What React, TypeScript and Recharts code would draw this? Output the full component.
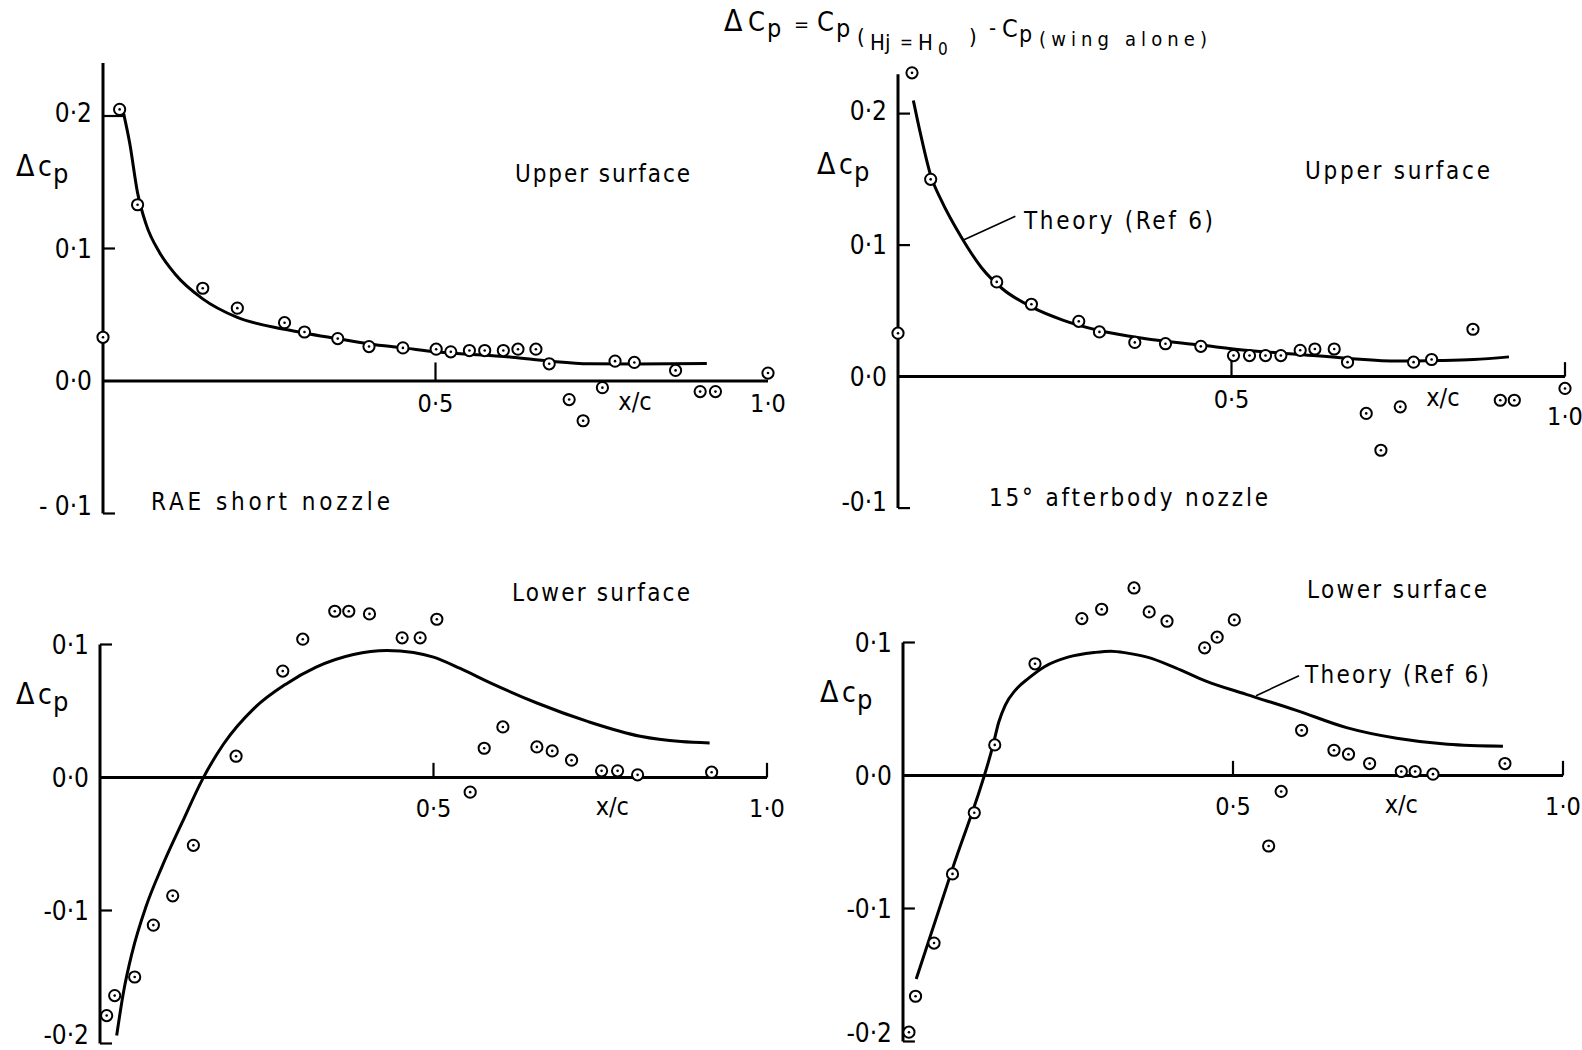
import React from 'react';
import { ComposedChart, Line, Scatter, XAxis, YAxis, ReferenceLine } from 'recharts';

const FONT = "'DejaVu Sans Condensed', 'Liberation Sans Narrow', 'DejaVu Sans', sans-serif";

// ---------- DATA ----------
// Panel 1: RAE short nozzle, upper surface (measured)
const upperShortPoints: [number, number][] = [
  [0, 0.033], [0.025, 0.205], [0.052, 0.133], [0.150, 0.070], [0.202, 0.055], [0.273, 0.044],
  [0.303, 0.037], [0.353, 0.032], [0.400, 0.026], [0.451, 0.025], [0.501, 0.024], [0.523, 0.022],
  [0.551, 0.023], [0.574, 0.023], [0.602, 0.023], [0.624, 0.024], [0.651, 0.024], [0.671, 0.013],
  [0.701, -0.014], [0.722, -0.030], [0.751, -0.005], [0.770, 0.015], [0.799, 0.014], [0.861, 0.008],
  [0.898, -0.008], [0.921, -0.008], [1.0, 0.006],
];
const upperShortTheory: [number, number][] = [
  [0.031, 0.202], [0.040, 0.180], [0.052, 0.142], [0.065, 0.118], [0.085, 0.097], [0.108, 0.081],
  [0.150, 0.062], [0.202, 0.048], [0.273, 0.039], [0.304, 0.036], [0.352, 0.032], [0.401, 0.028],
  [0.452, 0.025], [0.501, 0.022], [0.615, 0.018], [0.672, 0.015], [0.731, 0.013], [0.800, 0.0128],
  [0.908, 0.0132],
];

// Panel 2: 15 deg afterbody nozzle, upper surface
const upperAfterPoints: [number, number][] = [
  [0, 0.033], [0.021, 0.231], [0.049, 0.150], [0.148, 0.072], [0.200, 0.055], [0.271, 0.042],
  [0.302, 0.034], [0.355, 0.026], [0.401, 0.025], [0.454, 0.023], [0.503, 0.016], [0.527, 0.016],
  [0.551, 0.016], [0.574, 0.016], [0.603, 0.020], [0.625, 0.021], [0.654, 0.021], [0.674, 0.011],
  [0.702, -0.028], [0.724, -0.056], [0.753, -0.023], [0.773, 0.011], [0.800, 0.013], [0.862, 0.036],
  [0.903, -0.018], [0.924, -0.018], [1.0, -0.009],
];
const upperAfterTheory: [number, number][] = [
  [0.023, 0.210], [0.034, 0.184], [0.049, 0.153], [0.065, 0.134], [0.095, 0.106], [0.125, 0.083],
  [0.156, 0.067], [0.200, 0.053], [0.247, 0.043], [0.302, 0.035], [0.369, 0.029], [0.454, 0.024],
  [0.521, 0.020], [0.597, 0.017], [0.673, 0.014], [0.749, 0.0118], [0.810, 0.0122], [0.863, 0.013],
  [0.916, 0.015],
];

// Panel 3: RAE short nozzle, lower surface
const lowerShortPoints: [number, number][] = [
  [0.010, -0.179], [0.022, -0.164], [0.052, -0.150], [0.080, -0.111], [0.109, -0.089], [0.140, -0.051],
  [0.204, 0.016], [0.274, 0.080], [0.304, 0.104], [0.352, 0.125], [0.373, 0.125], [0.404, 0.123],
  [0.453, 0.105], [0.480, 0.105], [0.505, 0.119], [0.555, -0.011], [0.576, 0.022], [0.604, 0.038],
  [0.655, 0.023], [0.678, 0.020], [0.707, 0.013], [0.752, 0.005], [0.776, 0.005], [0.806, 0.002],
  [0.917, 0.004],
];
const lowerShortTheory: [number, number][] = [
  [0.025, -0.194], [0.035, -0.162], [0.048, -0.132], [0.069, -0.097], [0.093, -0.067], [0.123, -0.034],
  [0.154, -0.001], [0.185, 0.025], [0.231, 0.052], [0.278, 0.070], [0.324, 0.083], [0.380, 0.0925],
  [0.430, 0.0955], [0.470, 0.094], [0.500, 0.0905], [0.540, 0.082], [0.586, 0.071], [0.655, 0.056],
  [0.732, 0.042], [0.810, 0.031], [0.871, 0.027], [0.914, 0.026],
];

// Panel 4: 15 deg afterbody nozzle, lower surface
const lowerAfterPoints: [number, number][] = [
  [0.009, -0.193], [0.019, -0.166], [0.047, -0.126], [0.075, -0.074], [0.108, -0.028], [0.139, 0.023],
  [0.200, 0.084], [0.271, 0.118], [0.301, 0.125], [0.350, 0.141], [0.373, 0.123], [0.400, 0.116],
  [0.457, 0.096], [0.476, 0.104], [0.502, 0.117], [0.554, -0.053], [0.573, -0.012], [0.604, 0.034],
  [0.653, 0.019], [0.675, 0.016], [0.707, 0.009], [0.755, 0.003], [0.776, 0.003], [0.803, 0.001],
  [0.912, 0.009],
];
const lowerAfterTheory: [number, number][] = [
  [0.020, -0.153], [0.075, -0.070], [0.137, 0.024], [0.145, 0.040], [0.155, 0.053], [0.170, 0.064],
  [0.190, 0.073], [0.215, 0.082], [0.250, 0.089], [0.290, 0.0925], [0.315, 0.0935], [0.340, 0.092],
  [0.370, 0.089], [0.413, 0.081], [0.459, 0.071], [0.520, 0.061], [0.596, 0.049], [0.672, 0.036],
  [0.748, 0.028], [0.825, 0.0235], [0.909, 0.022],
];

// Tick values / labels
const upperYTicks = [-0.1, 0, 0.1, 0.2];
const upperYLabelsA = ['- 0·1', '0·0', '0·1', '0·2'];
const upperYLabelsB = ['-0·1', '0·0', '0·1', '0·2'];
const lowerYTicks = [-0.2, -0.1, 0, 0.1];
const lowerYLabels = ['-0·2', '-0·1', '0·0', '0·1'];
const xTickValues = [0.5, 1.0];
const xTickLabels = ['0·5', '1·0'];
const xVarLabel = 'x/c';

// Leader lines for "Theory (Ref 6)"
const leaderUpper: [number, number][] = [[0.099, 0.104], [0.176, 0.122]];
const leaderLower: [number, number][] = [[0.535, 0.060], [0.600, 0.075]];

const toXY = (arr: [number, number][]) => arr.map(([x, y]) => ({ x, y }));

// ---------- PANEL ----------
type Cfg = {
  x0: number; x1: number; zeroY: number; unit: number; ymin: number; ymax: number;
  axisTop: number; axisBottom: number;
  yTicks: number[]; yLabels: string[]; yLabelShift: number[];
  yTickMarks: { v: number; len: number }[];
  xTickMarks: { v: number; len: number }[];
  xLabelDy: number[]; xVarPos: number; xVarDy: number;
  leader?: [number, number][];
};

const Marker = (p: any) => (
  <g>
    <circle cx={p.cx} cy={p.cy} r={5.6} fill="#fff" stroke="#000" strokeWidth={2} />
    <circle cx={p.cx} cy={p.cy} r={1.3} fill="#000" />
  </g>
);

function Panel({ cfg, points, theory }: { cfg: Cfg; points: [number, number][]; theory: [number, number][] }) {
  const M = { top: 30, right: 40, bottom: 70, left: 0 };
  const YW = 95;
  const plotW = cfg.x1 - cfg.x0;
  const plotH = (cfg.ymax - cfg.ymin) * cfg.unit;
  const width = YW + plotW + M.right;
  const height = M.top + plotH + M.bottom;
  const left = cfg.x0 - YW;
  const top = cfg.zeroY - cfg.ymax * cfg.unit - M.top;
  const xLabelData = xTickValues.map((v, i) => ({ x: v, y: 0, label: xTickLabels[i], dy: cfg.xLabelDy[i] }));
  const varData = [{ x: cfg.xVarPos, y: 0, label: xVarLabel, dy: cfg.xVarDy }];
  const TextShape = (p: any) => (
    <text x={p.cx} y={p.cy + p.payload.dy} textAnchor="middle" fontSize={25} fontFamily={FONT} fill="#000">
      {p.payload.label}
    </text>
  );
  const YTick = (p: any) => {
    const i = cfg.yTicks.indexOf(p.payload.value);
    return (
      <text x={p.x} y={p.y + (cfg.yLabelShift[i] || 0)} dy="0.36em" textAnchor="end" fontSize={26} fontFamily={FONT} fill="#000">
        {cfg.yLabels[i]}
      </text>
    );
  };
  return (
    <div style={{ position: 'absolute', left, top }}>
      <ComposedChart width={width} height={height} margin={M}>
        <XAxis type="number" dataKey="x" domain={[0, 1]} hide />
        <YAxis
          type="number"
          dataKey="y"
          domain={[cfg.ymin, cfg.ymax]}
          ticks={cfg.yTicks}
          interval={0}
          width={YW}
          axisLine={false}
          tickLine={false}
          tickSize={0}
          tickMargin={11}
          tick={YTick}
        />
        {/* y axis line */}
        <ReferenceLine segment={[{ x: 0, y: cfg.axisBottom }, { x: 0, y: cfg.axisTop }]} stroke="#000" strokeWidth={3} />
        {/* x axis line at zero */}
        <ReferenceLine segment={[{ x: 0, y: 0 }, { x: 1, y: 0 }]} stroke="#000" strokeWidth={3} />
        {cfg.yTickMarks.map((t, i) => (
          <ReferenceLine key={'yt' + i} segment={[{ x: 0, y: t.v }, { x: t.len, y: t.v }]} stroke="#000" strokeWidth={2.2} />
        ))}
        {cfg.xTickMarks.map((t, i) => (
          <ReferenceLine key={'xt' + i} segment={[{ x: t.v, y: 0 }, { x: t.v, y: t.len }]} stroke="#000" strokeWidth={2.2} />
        ))}
        {cfg.leader && (
          <ReferenceLine
            segment={[{ x: cfg.leader[0][0], y: cfg.leader[0][1] }, { x: cfg.leader[1][0], y: cfg.leader[1][1] }]}
            stroke="#000"
            strokeWidth={1.6}
          />
        )}
        <Line data={toXY(theory)} dataKey="y" type="monotone" dot={false} stroke="#000" strokeWidth={3} isAnimationActive={false} />
        <Scatter data={toXY(points)} dataKey="y" shape={Marker} isAnimationActive={false} />
        <Scatter data={xLabelData} dataKey="y" shape={TextShape} isAnimationActive={false} />
        <Scatter data={varData} dataKey="y" shape={TextShape} isAnimationActive={false} />
      </ComposedChart>
    </div>
  );
}

const cfg1: Cfg = {
  x0: 103, x1: 768, zeroY: 380.5, unit: 1325, ymin: -0.1, ymax: 0.24,
  axisTop: 0.24, axisBottom: -0.1, yTicks: upperYTicks, yLabels: upperYLabelsA, yLabelShift: [-8, 0, 0, -3],
  yTickMarks: [{ v: 0.2, len: 0.03 }, { v: 0.1, len: 0.018 }, { v: -0.1, len: 0.018 }],
  xTickMarks: [{ v: 0.5, len: 0.014 }],
  xLabelDy: [31, 31], xVarPos: 0.80, xVarDy: 29,
};
const cfg2: Cfg = {
  x0: 898, x1: 1565, zeroY: 377, unit: 1315, ymin: -0.1, ymax: 0.24,
  axisTop: 0.23, axisBottom: -0.1, yTicks: upperYTicks, yLabels: upperYLabelsB, yLabelShift: [-6, 0, 0, -3],
  yTickMarks: [{ v: 0.2, len: 0.018 }, { v: 0.1, len: 0.018 }, { v: -0.1, len: 0.018 }],
  xTickMarks: [{ v: 0.5, len: 0.015 }, { v: 1.0, len: 0.011 }],
  xLabelDy: [31, 48], xVarPos: 0.817, xVarDy: 29,
  leader: leaderUpper,
};
const cfg3: Cfg = {
  x0: 100, x1: 767, zeroY: 777, unit: 1330, ymin: -0.205, ymax: 0.15,
  axisTop: 0.1, axisBottom: -0.2, yTicks: lowerYTicks, yLabels: lowerYLabels, yLabelShift: [-9, 0, 0, 0],
  yTickMarks: [{ v: 0.1, len: 0.018 }, { v: -0.1, len: 0.018 }, { v: -0.2, len: 0.018 }],
  xTickMarks: [{ v: 0.5, len: 0.011 }, { v: 1.0, len: 0.011 }],
  xLabelDy: [40, 40], xVarPos: 0.768, xVarDy: 38,
};
const cfg4: Cfg = {
  x0: 903, x1: 1563, zeroY: 775, unit: 1330, ymin: -0.205, ymax: 0.15,
  axisTop: 0.1, axisBottom: -0.2, yTicks: lowerYTicks, yLabels: lowerYLabels, yLabelShift: [-9, 0, 0, 0],
  yTickMarks: [{ v: 0.1, len: 0.018 }, { v: -0.1, len: 0.018 }, { v: -0.2, len: 0.018 }],
  xTickMarks: [{ v: 0.5, len: 0.011 }, { v: 1.0, len: 0.011 }],
  xLabelDy: [40, 40], xVarPos: 0.755, xVarDy: 38,
  leader: leaderLower,
};

const DeltaCp = ({ x, y }: { x: number; y: number }) => (
  <text fontFamily={FONT} fill="#000">
    <tspan x={x} y={y} fontSize={30}>Δ</tspan>
    <tspan x={x + 22} y={y} fontSize={28}>c</tspan>
    <tspan x={x + 37} y={y + 7} fontSize={27}>p</tspan>
  </text>
);

const Label = ({ x, y, w, children, size = 24 }: any) => (
  <text x={x} y={y} fontSize={size} fontFamily={FONT} fill="#000" textLength={w} lengthAdjust="spacing">
    {children}
  </text>
);

export default function App() {
  return (
    <div style={{ position: 'absolute', left: 0, top: 0, width: 1582, height: 1050, background: '#fff', overflow: 'hidden' }}>
      <Panel cfg={cfg1} points={upperShortPoints} theory={upperShortTheory} />
      <Panel cfg={cfg2} points={upperAfterPoints} theory={upperAfterTheory} />
      <Panel cfg={cfg3} points={lowerShortPoints} theory={lowerShortTheory} />
      <Panel cfg={cfg4} points={lowerAfterPoints} theory={lowerAfterTheory} />
      <svg width={1582} height={1050} style={{ position: 'absolute', left: 0, top: 0, pointerEvents: 'none' }}>
        {/* Title */}
        <text fontFamily={FONT} fill="#000">
          <tspan x={724} y={31} fontSize={30}>Δ</tspan>
          <tspan x={748} y={31} fontSize={27}>C</tspan>
          <tspan x={767} y={37} fontSize={25}>p</tspan>
          <tspan x={794} y={31} fontSize={20}>=</tspan>
          <tspan x={817} y={31} fontSize={27}>C</tspan>
          <tspan x={836} y={37} fontSize={25}>p</tspan>
          <tspan x={857} y={44} fontSize={22}>(</tspan>
          <tspan x={870} y={50} fontSize={22}>Hj</tspan>
          <tspan x={900} y={48} fontSize={17}>=</tspan>
          <tspan x={918} y={50} fontSize={22}>H</tspan>
          <tspan x={938} y={55} fontSize={17}>0</tspan>
          <tspan x={969} y={44} fontSize={22}>)</tspan>
          <tspan x={989} y={35} fontSize={22}>-</tspan>
          <tspan x={1002} y={37} fontSize={25}>C</tspan>
          <tspan x={1019} y={42} fontSize={23}>p</tspan>
        </text>
        <Label x={1039} y={46} w={168} size={20}>(wing alone)</Label>

        <DeltaCp x={16} y={176} />
        <DeltaCp x={817} y={174} />
        <DeltaCp x={16} y={704} />
        <DeltaCp x={820} y={702} />

        <Label x={515} y={182} w={175}>Upper surface</Label>
        <Label x={1305} y={179} w={185}>Upper surface</Label>
        <Label x={151} y={510} w={239}>RAE short nozzle</Label>
        <Label x={989} y={506} w={279}>15° afterbody nozzle</Label>
        <Label x={512} y={601} w={178}>Lower surface</Label>
        <Label x={1307} y={598} w={180}>Lower surface</Label>
        <Label x={1024} y={229} w={189}>Theory (Ref 6)</Label>
        <Label x={1305} y={683} w={184}>Theory (Ref 6)</Label>
      </svg>
    </div>
  );
}
